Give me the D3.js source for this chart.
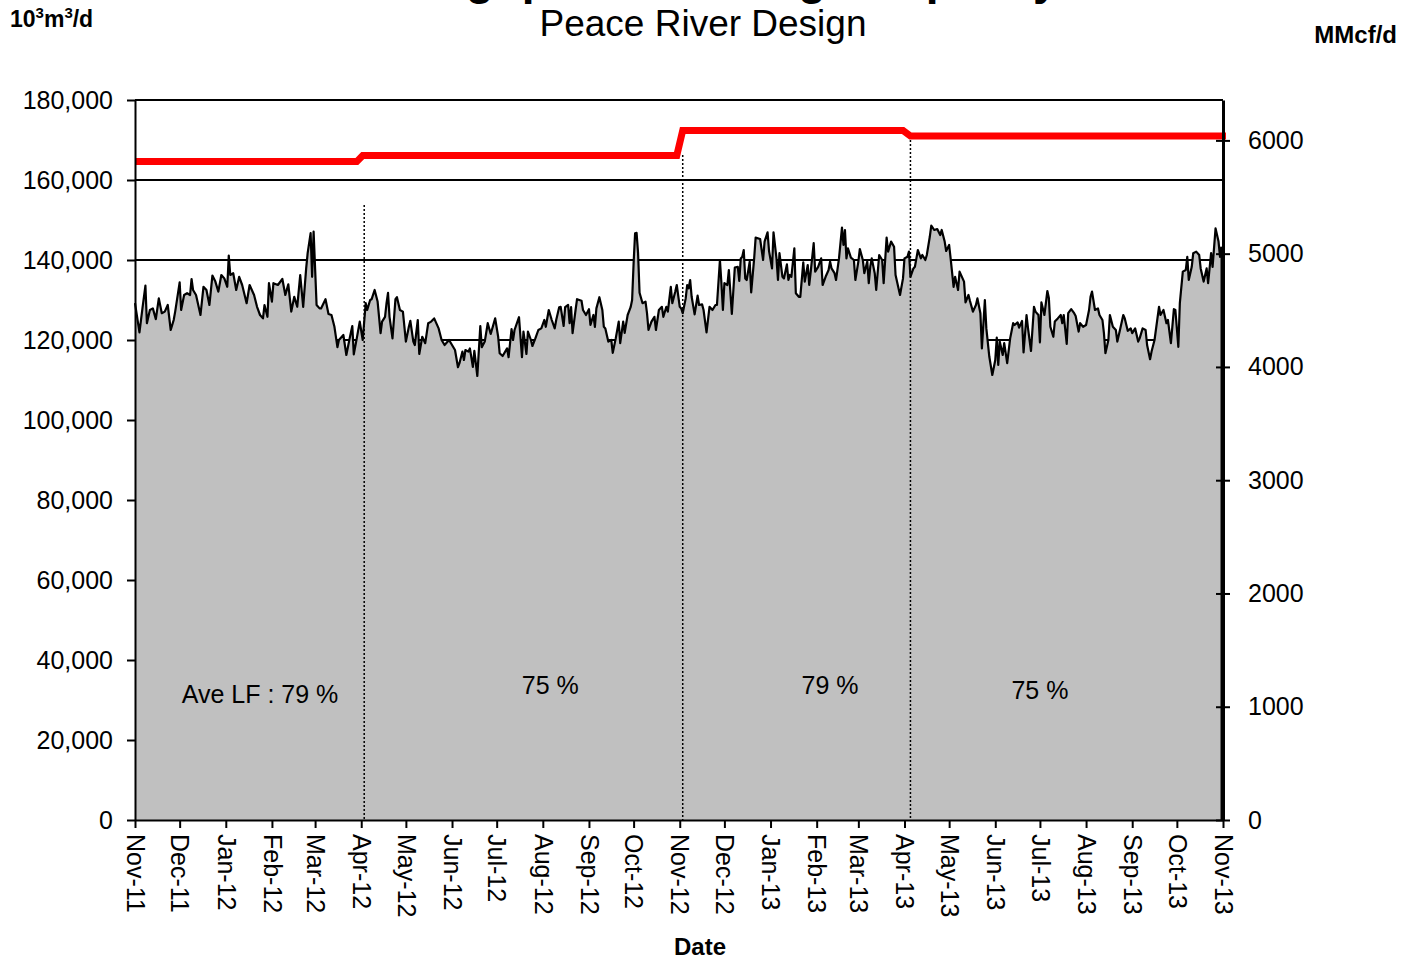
<!DOCTYPE html>
<html><head><meta charset="utf-8">
<script src="https://cdn.jsdelivr.net/npm/d3@7"></script>
<style>
body{margin:0;background:#fff}
svg{display:block}
text{font-family:"Liberation Sans",Arial,Helvetica,sans-serif;fill:#000}
</style>
</head><body>
<svg id="chart" width="1407" height="961"></svg>
<script>
// ---------------- DATA ----------------
const titleText = "Throughput and Design Capacity";
const subtitleText = "Peace River Design";
const startDate = "2011-11-01";
const monthLabels = ["Nov-11","Dec-11","Jan-12","Feb-12","Mar-12","Apr-12","May-12","Jun-12","Jul-12","Aug-12","Sep-12","Oct-12","Nov-12","Dec-12","Jan-13","Feb-13","Mar-13","Apr-13","May-13","Jun-13","Jul-13","Aug-13","Sep-13","Oct-13","Nov-13"];
const leftTicks = [0,20000,40000,60000,80000,100000,120000,140000,160000,180000];
const rightTicks = [0,1000,2000,3000,4000,5000,6000];
const m3PerMcf = 28.3168; // 10^3 m3/d per MMcf/d

// daily throughput, [day offset from start, 10^3 m3/d]
const throughput = [
[0,129200],[3,121900],[5,127900],[7,133600],[8,124200],[10,127500],[12,127900],[14,125200],[16,130400],[18,126700],[20,127100],[22,128750],[24,122500],[26,125000],[27,127100],[30,134400],[31,127500],[33,131250],[35,131700],[37,131250],[38,135250],[39,132500],[41,131250],[44,126250],[46,133300],[48,132500],[50,128750],[52,136100],[54,134600],[56,132100],[58,136250],[60,135400],[62,133300],[63,141100],[64,136250],[66,136700],[68,132500],[70,135800],[72,133750],[75,129200],[77,133750],[80,131250],[82,128300],[84,126250],[86,125400],[87,128750],[89,125800],[90,134200],[92,129600],[93,134200],[96,133750],[99,135250],[101,131250],[103,133900],[105,127100],[107,130800],[109,128300],[111,136250],[113,128300],[115,137900],[116,141700],[118,146700],[119,135800],[120,147100],[122,128750],[124,127900],
[125,127900],[128,130200],[130,126500],[132,126250],[134,123300],[136,118200],[137,120000],[140,121250],[142,116250],[144,120000],[146,123500],[147,116400],[149,120400],[151,124600],[153,120000],[155,129200],[156,127500],[158,130000],[159,130200],[161,132500],[163,129600],[165,121700],[166,124600],[168,125800],[169,129200],[170,131800],[171,125800],[173,120400],[175,130200],[176,130700],[178,127500],[180,127100],[182,119600],[184,123300],[185,124800],[187,119600],[188,118750],[190,125000],[191,116500],[193,120800],[195,119200],[197,124200],[199,124600],[201,125400],[204,122900],[206,120000],[208,118750],[211,120000],[213,118750],[215,117500],[217,113200],[218,114200],[220,117100],[221,115000],[222,117500],[224,117100],[225,117900],[227,113300],[228,117300],[230,111000],[232,123500],[233,118200],[235,119600],[237,124200],[239,121500],[242,125400],[244,120800],
[245,116700],[247,116000],[250,117900],[251,115700],[253,122700],[254,120000],[255,122500],[258,125700],[260,115700],[261,122100],[263,116500],[264,122100],[266,120000],[267,118500],[269,120400],[271,122500],[273,122900],[275,125000],[276,123300],[278,127500],[280,125000],[282,122900],[283,125000],[285,128200],[286,128300],[288,123500],[289,128200],[291,128750],[292,124200],[293,128200],[294,121700],[296,127500],[297,130200],[300,129800],[301,127500],[303,126250],[305,127700],[306,123750],[308,126250],[309,123300],[310,127900],[312,130700],[314,127500],[315,123300],[316,122900],[318,119600],[320,120000],[321,116800],[323,120400],[325,124600],[326,119200],[328,124600],[329,121800],[331,126250],[333,128200],[334,130000],[335,139200],[336,146700],[337,146800],[338,141700],[339,131800],[341,129200],[343,129600],[344,126700],[345,122500],[347,124600],[349,125800],[350,122500],[352,127500],[354,128300],[355,125800],[357,128300],[358,127100],[360,133300],[361,129200],[363,132100],[364,133750],[366,128300],[367,127900],[368,126700],[370,130400],[371,133750],[372,132900],
[373,135000],[374,130800],[376,126400],[378,131100],[379,128750],[381,128900],[382,127500],[384,121900],[386,128300],[388,127500],[390,128750],[391,128750],[393,140000],[394,134200],[395,127500],[396,134200],[398,133750],[399,137500],[401,126500],[403,138100],[405,138300],[406,134750],[407,140400],[408,140800],[409,142500],[410,135400],[411,135000],[413,139600],[414,131900],[416,140400],[417,145600],[420,145250],[422,140000],[423,144600],[425,146900],[426,142250],[428,137900],[429,146900],[431,140400],[432,135000],[433,141700],[435,135800],[436,135400],[438,138900],[439,135000],[440,136250],[441,135800],[443,142900],[444,131700],[446,130800],[447,130800],[449,139400],[450,134600],[452,138750],[453,133750],[454,137100],[456,144200],[457,137100],[459,138300],[461,140400],[462,133750],[464,135800],[466,137500],[467,139600],[468,137900],[470,136700],[471,135000],[473,140400],[475,148100],[476,143750],[477,147500],[478,140400],[479,142900],[481,140600],[483,140000],[484,135000],[486,139600],[487,142750],[489,140000],[490,136700],[492,139600],[493,134200],
[494,138300],[495,140400],[497,136700],[498,132500],[500,141250],[502,140000],[503,134200],[505,145600],[506,142100],[508,144600],[510,143300],[511,136250],[514,131250],[516,135400],[517,140400],[519,140800],[520,142100],[521,135800],[523,137900],[524,138300],[526,142500],[528,140400],[529,141250],[531,140000],[532,141250],[534,145800],[535,148600],[537,147500],[539,147750],[541,146250],[542,147500],[544,144600],[545,142250],[547,143750],[548,140400],[550,133300],[551,135800],[553,132500],[554,137100],[557,134600],[558,129400],[560,131250],[561,129750],[563,127100],[565,128750],[566,130400],[568,126700],[569,117900],[571,130000],[572,122900],[574,115800],[576,111250],[578,115000],[579,120600],[580,113750],[581,119600],[583,116250],[584,119200],[586,114200],[588,120400],[590,124200],[591,123750],[593,124400],[594,123100],[596,124750],[597,116900],[599,126250],[600,122900],[602,117250],[604,128300],[605,127100],[607,126250],[608,119400],[609,129400],[611,126250],[613,132250],[614,130500],
[615,123300],[617,120800],[618,124600],[620,125400],[622,126250],[623,124200],[624,126250],[626,119000],[627,126700],[629,127700],[631,126700],[632,126000],[634,122100],[635,124200],[637,123300],[639,123750],[641,127500],[642,130800],[643,132100],[645,127500],[647,127900],[648,126250],[650,125000],[651,121700],[652,116700],[654,120000],[655,126250],[657,123300],[659,122500],[660,119600],[662,122900],[664,126250],[665,125400],[667,122300],[669,122900],[670,121700],[672,122900],[674,119600],[675,120400],[677,122900],[679,122500],[680,118750],[682,115200],[683,117100],[685,120000],[688,128300],[689,126250],[691,127500],[693,124200],[694,125000],[696,119200],[698,127700],[699,127500],[701,118300],[702,129200],[704,137100],[706,137500],[707,140800],[708,135000],[710,138300],[711,141700],[713,142100],[715,141250],[716,137900],[718,134600],[720,137900],[721,134200],[723,141700],[724,138300],[726,147900],[728,144600],[729,140800],[730,143300]
];

// design capacity steps, [day offset, 10^3 m3/d]
const capacity = [[0,164600],[149,164600],[153,166100],[364,166100],[368,172400],[516,172400],[521,171000],[733,171000]];

// period dividers, [day offset, top value]
const dividers = [[154,153750],[368,166250],[521,170000]];

// load factor annotations
const lfLabels = ["Ave LF : 79 %","75 %","79 %","75 %"];
const lfDays = [84,279,467,608];
const lfLevels = [29250,31500,31500,30250];

// ---------------- CHART ----------------
const svg = d3.select("#chart");
const W = 1407, H = 961;
const m = {left:135, right:W-1223, top:100, bottom:H-820};
const x0 = m.left, x1 = W - m.right, y0 = H - m.bottom, y1 = m.top;

const t0 = d3.utcParse("%Y-%m-%d")(startDate);
const dayToDate = d => new Date(t0.getTime() + d*864e5);
const monthDates = monthLabels.map(l => d3.utcParse("%b-%y")(l));

const x = d3.scaleUtc().domain([monthDates[0], monthDates[monthDates.length-1]]).range([x0, x1]);
const y = d3.scaleLinear().domain([0, 180000]).range([y0, y1]);
const yR = d3.scaleLinear().domain([0, 180000/m3PerMcf]).range([y0, y1]);

// gridlines
svg.append("g").selectAll("line").data(leftTicks.filter(v=>v>0)).join("line")
  .attr("x1", x0).attr("x2", x1).attr("y1", d=>y(d)).attr("y2", d=>y(d))
  .attr("stroke","#000").attr("stroke-width",2);

// throughput area
const area = d3.area().x(d=>x(dayToDate(d[0]))).y0(y(0)).y1(d=>y(d[1]));
svg.append("path").datum(throughput).attr("d", area).attr("fill","#c0c0c0");
const line = d3.line().x(d=>x(dayToDate(d[0]))).y(d=>y(d[1]));
svg.append("path").datum(throughput).attr("d", line)
  .attr("fill","none").attr("stroke","#000").attr("stroke-width",2.2).attr("stroke-linejoin","round");
const last = throughput[throughput.length-1];
svg.append("line").attr("x1", x(dayToDate(last[0]))).attr("x2", x(dayToDate(last[0])))
  .attr("y1", y(last[1])).attr("y2", y(0)).attr("stroke","#000").attr("stroke-width",2);

// dividers
svg.append("g").selectAll("line").data(dividers).join("line")
  .attr("x1", d=>x(dayToDate(d[0]))).attr("x2", d=>x(dayToDate(d[0])))
  .attr("y1", d=>y(d[1])).attr("y2", y(0))
  .attr("stroke","#000").attr("stroke-width",1.5).attr("stroke-dasharray","2,2");

// capacity
svg.append("path").datum(capacity).attr("d", line)
  .attr("fill","none").attr("stroke","#ff0000").attr("stroke-width",7).attr("stroke-linecap","butt");

// left axis
const fmt = d3.format(",");
const gL = svg.append("g").attr("transform",`translate(${x0},0)`)
  .call(d3.axisLeft(y).tickValues(leftTicks).tickSize(8).tickSizeOuter(0).tickPadding(14).tickFormat(fmt));
// right axis
const gR = svg.append("g").attr("transform",`translate(${x1},0)`)
  .call(d3.axisRight(yR).tickValues(rightTicks).tickSize(7).tickSizeOuter(0).tickPadding(18).tickFormat(d3.format("d")));
gR.selectAll(".tick line").attr("x1",-7);
// bottom axis
const gB = svg.append("g").attr("transform",`translate(0,${y0})`)
  .call(d3.axisBottom(x).tickValues(monthDates).tickSize(8).tickSizeOuter(0).tickFormat((d,i)=>monthLabels[i]));

[gL,gR,gB].forEach(g=>{
  g.select(".domain").attr("stroke","#000").attr("stroke-width",2);
  g.selectAll(".tick line").attr("stroke","#000").attr("stroke-width",2);
  g.selectAll(".tick text").attr("font-family","Liberation Sans, Arial, sans-serif").attr("font-size",25).attr("fill","#000");
});
gR.select(".domain").attr("stroke-width",3);
gB.selectAll(".tick text")
  .attr("transform","rotate(90)").attr("text-anchor","start")
  .attr("x",14).attr("y",0).attr("dy","0.35em");

// load factor labels
svg.append("g").selectAll("text").data(lfLabels).join("text")
  .attr("x",(d,i)=>x(dayToDate(lfDays[i]))).attr("y",(d,i)=>y(lfLevels[i]))
  .attr("text-anchor","middle").attr("font-size",25).text(d=>d);

// titles
svg.append("text").attr("x",697).attr("y",-6).attr("text-anchor","middle")
  .attr("font-size",46).attr("font-weight","bold").text(titleText);
svg.append("text").attr("x",703).attr("y",36).attr("text-anchor","middle")
  .attr("font-size",37).text(subtitleText);

const u = svg.append("text").attr("x",10).attr("y",27).attr("font-size",23).attr("font-weight","bold");
u.append("tspan").text("10");
u.append("tspan").attr("font-size",15).attr("dy",-9).text("3");
u.append("tspan").attr("dy",9).text("m");
u.append("tspan").attr("font-size",15).attr("dy",-9).text("3");
u.append("tspan").attr("dy",9).text("/d");

svg.append("text").attr("x",1397).attr("y",43).attr("text-anchor","end")
  .attr("font-size",24).attr("font-weight","bold").text("MMcf/d");
svg.append("text").attr("x",700).attr("y",955).attr("text-anchor","middle")
  .attr("font-size",24).attr("font-weight","bold").text("Date");
</script>
</body></html>
